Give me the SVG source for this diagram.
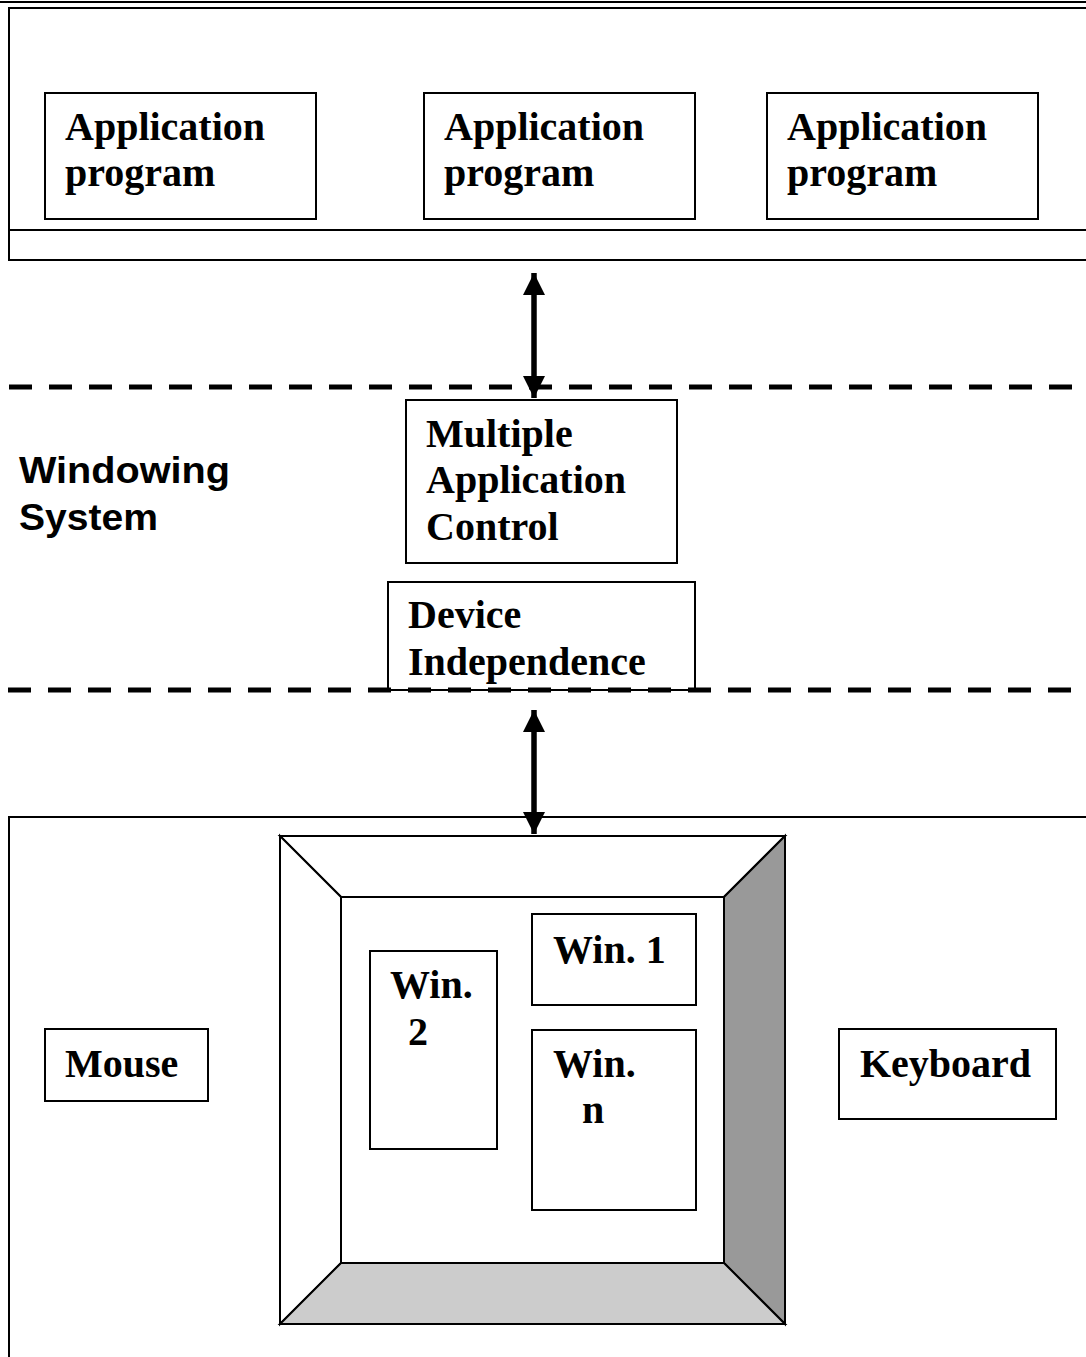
<svg xmlns="http://www.w3.org/2000/svg" width="1086" height="1357" viewBox="0 0 1086 1357">
  <style>
    .box { fill: #fff; stroke: #000; stroke-width: 2; }
    .frame { fill: none; stroke: #000; stroke-width: 2; }
    .dash { fill: none; stroke: #000; stroke-width: 5; stroke-dasharray: 23 17; }
    .bevel { stroke: #000; stroke-width: 2; stroke-linejoin: miter; }
    .lbl { font-family: "Liberation Serif", "Times New Roman", serif; font-weight: bold; font-size: 40px; fill: #000; }
    .side { font-family: "Liberation Sans", Arial, sans-serif; font-weight: bold; font-size: 37px; fill: #000; }
    .shaft { stroke: #000; stroke-width: 5.5; fill: none; }
  </style>
  <defs>
    <marker id="head" viewBox="0 0 22 22" refX="22" refY="11" markerWidth="22" markerHeight="22" markerUnits="userSpaceOnUse" orient="auto-start-reverse">
      <path d="M0,0 L22,11 L0,22 Z" fill="#000"/>
    </marker>
  </defs>

  <rect width="1086" height="1357" fill="#fff"/>

  <!-- application layer -->
  <g id="app-layer">
    <line x1="0" y1="2" x2="1086" y2="2" class="frame"/>
    <path d="M1090,8 H9 V260 H1090" class="frame"/>
    <line x1="9" y1="230" x2="1090" y2="230" class="frame"/>
  </g>

  <g id="app1">
    <rect x="45" y="93" width="271" height="126" class="box"/>
    <text class="lbl" x="65" y="140">Application</text>
    <text class="lbl" x="65" y="186">program</text>
  </g>
  <g id="app2">
    <rect x="424" y="93" width="271" height="126" class="box"/>
    <text class="lbl" x="444" y="140">Application</text>
    <text class="lbl" x="444" y="186">program</text>
  </g>
  <g id="app3">
    <rect x="767" y="93" width="271" height="126" class="box"/>
    <text class="lbl" x="787" y="140">Application</text>
    <text class="lbl" x="787" y="186">program</text>
  </g>

  <!-- windowing system band -->
  <g id="windowing-system">
    <text class="side" x="19" y="483" textLength="211" lengthAdjust="spacingAndGlyphs">Windowing</text>
    <text class="side" x="19" y="530" textLength="139" lengthAdjust="spacingAndGlyphs">System</text>
  </g>

  <g id="mac">
    <rect x="406" y="400" width="271" height="163" class="box"/>
    <text class="lbl" x="426" y="447">Multiple</text>
    <text class="lbl" x="426" y="493">Application</text>
    <text class="lbl" x="426" y="540">Control</text>
  </g>

  <g id="device-independence">
    <rect x="388" y="582" width="307" height="108" class="box"/>
    <text class="lbl" x="408" y="628">Device</text>
    <text class="lbl" x="408" y="675">Independence</text>
  </g>

  <g id="band-edges">
    <line x1="9" y1="387" x2="1086" y2="387" class="dash"/>
    <line x1="8" y1="690" x2="1086" y2="690" class="dash"/>
  </g>

  <!-- hardware layer -->
  <g id="hw-layer">
    <path d="M1090,817 H9 V1360" class="frame"/>
  </g>

  <g id="monitor">
    <rect x="280" y="836" width="505" height="488" fill="#fff" stroke="none"/>
    <polygon points="280,836 785,836 724,897 341,897" fill="#fff" class="bevel"/>
    <polygon points="280,836 341,897 341,1263 280,1324" fill="#fff" class="bevel"/>
    <polygon points="785,836 785,1324 724,1263 724,897" fill="#999" class="bevel"/>
    <polygon points="280,1324 341,1263 724,1263 785,1324" fill="#ccc" class="bevel"/>
    <rect x="341" y="897" width="383" height="366" class="box"/>
  </g>

  <g id="win1">
    <rect x="532" y="914" width="164" height="91" class="box"/>
    <text class="lbl" x="553" y="963">Win. 1</text>
  </g>
  <g id="win2">
    <rect x="370" y="951" width="127" height="198" class="box"/>
    <text class="lbl" x="390" y="998">Win.</text>
    <text class="lbl" x="408" y="1045">2</text>
  </g>
  <g id="winn">
    <rect x="532" y="1030" width="164" height="180" class="box"/>
    <text class="lbl" x="553" y="1077">Win.</text>
    <text class="lbl" x="582" y="1123">n</text>
  </g>

  <g id="mouse">
    <rect x="45" y="1029" width="163" height="72" class="box"/>
    <text class="lbl" x="65" y="1077">Mouse</text>
  </g>
  <g id="keyboard">
    <rect x="839" y="1029" width="217" height="90" class="box"/>
    <text class="lbl" x="860" y="1077">Keyboard</text>
  </g>

  <!-- two-way links between layers -->
  <g id="connectors">
    <line x1="534" y1="273" x2="534" y2="398" class="shaft" marker-start="url(#head)" marker-end="url(#head)"/>
    <line x1="534" y1="710" x2="534" y2="834" class="shaft" marker-start="url(#head)" marker-end="url(#head)"/>
  </g>
</svg>
